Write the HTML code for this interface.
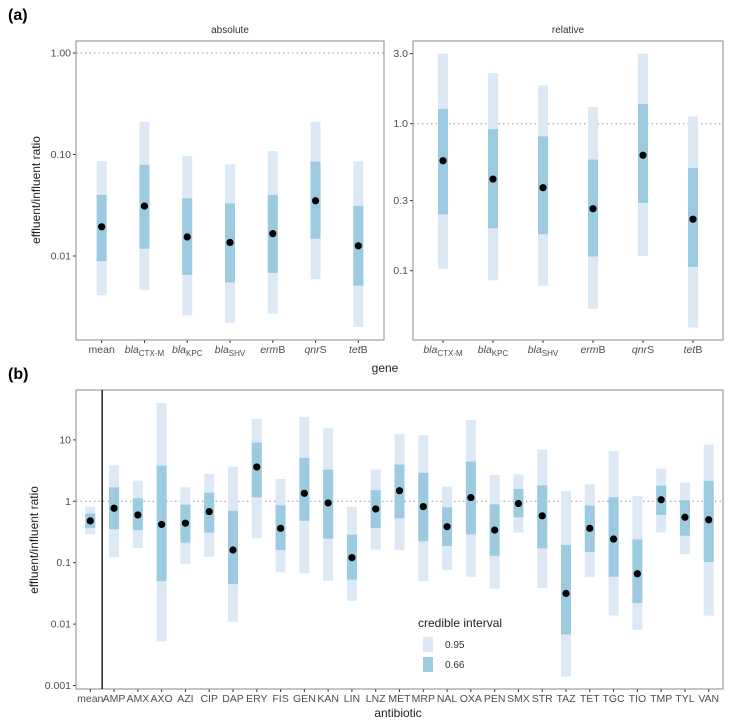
<!DOCTYPE html>
<html><head><meta charset="utf-8"><style>
body{margin:0;background:#fff}
svg{display:block;font-family:"Liberation Sans",sans-serif}
.tick{font-size:10.5px;fill:#4d4d4d}
</style></head><body>
<svg id="fig" width="732" height="725" viewBox="0 0 732 725">
<text x="8" y="20" font-size="16" font-weight="bold">(a)</text>
<text x="8" y="379" font-size="16" font-weight="bold">(b)</text>
<text x="230" y="33" font-size="10" fill="#333" text-anchor="middle">absolute</text>
<text x="568" y="33" font-size="10" fill="#333" text-anchor="middle">relative</text>
<text transform="translate(40,190) rotate(-90)" font-size="12" fill="#222" text-anchor="middle">effluent/influent ratio</text>
<text transform="translate(38,540) rotate(-90)" font-size="12" fill="#222" text-anchor="middle">effluent/influent ratio</text>
<text x="385" y="372" font-size="12" fill="#222" text-anchor="middle">gene</text>
<text x="398" y="717" font-size="12" fill="#222" text-anchor="middle">antibiotic</text>
<g>
<text x="418" y="627" font-size="12" fill="#222">credible interval</text>
<rect x="423" y="637" width="10" height="15" fill="#dce9f5"/>
<rect x="423" y="657" width="10" height="15" fill="#9ccae0"/>
<text x="445" y="648" font-size="10" fill="#333">0.95</text>
<text x="445" y="668" font-size="10" fill="#333">0.66</text>
</g>
</svg>
<script>
// Panel a absolute
const absCats = ["mean","blaCTX-M","blaKPC","blaSHV","ermB","qnrS","tetB"];
const absLo95 = [0.0041,0.0046,0.0026,0.0022,0.0027,0.0059,0.0020];
const absHi95 = [0.086,0.21,0.097,0.080,0.108,0.21,0.086];
const absLo66 = [0.0089,0.0118,0.0065,0.0055,0.0068,0.0148,0.0051];
const absHi66 = [0.040,0.079,0.037,0.033,0.040,0.085,0.031];
const absMid = [0.0194,0.031,0.0154,0.0136,0.0166,0.035,0.0126];
const absTicks = [1,0.1,0.01];
const absTickLabels = ["1.00","0.10","0.01"];
// Panel a relative
const relCats = ["blaCTX-M","blaKPC","blaSHV","ermB","qnrS","tetB"];
const relLo95 = [0.103,0.086,0.079,0.055,0.126,0.041];
const relHi95 = [3.0,2.21,1.82,1.30,3.0,1.12];
const relLo66 = [0.242,0.194,0.177,0.125,0.289,0.106];
const relHi66 = [1.26,0.92,0.82,0.57,1.36,0.50];
const relMid = [0.56,0.42,0.367,0.264,0.61,0.224];
const relTicks = [3,1,0.3,0.1];
const relTickLabels = ["3.0","1.0","0.3","0.1"];
// Panel b
const abCats = ["mean","AMP","AMX","AXO","AZI","CIP","DAP","ERY","FIS","GEN","KAN","LIN","LNZ","MET","MRP","NAL","OXA","PEN","SMX","STR","TAZ","TET","TGC","TIO","TMP","TYL","VAN"];
const abLo95 = [0.29,0.122,0.174,0.0052,0.096,0.125,0.0109,0.249,0.0696,0.067,0.051,0.024,0.163,0.161,0.050,0.076,0.059,0.0377,0.31,0.039,0.0014,0.058,0.0138,0.0081,0.31,0.138,0.0137];
const abHi95 = [0.82,3.86,2.17,40,1.69,2.79,3.67,22,2.31,23.7,15.5,0.81,3.3,12.4,11.9,1.73,21.2,2.69,2.75,6.96,1.46,1.89,6.6,1.22,3.41,2.02,8.4];
const abLo66 = [0.37,0.35,0.34,0.050,0.212,0.31,0.045,1.16,0.161,0.48,0.246,0.053,0.367,0.53,0.223,0.187,0.29,0.13,0.55,0.171,0.0068,0.149,0.059,0.022,0.60,0.275,0.1025];
const abHi66 = [0.63,1.69,1.12,3.8,0.88,1.38,0.70,9.05,0.86,5.09,3.28,0.286,1.51,3.96,2.9,0.80,4.43,0.89,1.59,1.82,0.194,0.85,1.16,0.24,1.8,1.04,2.15];
const abMid = [0.48,0.77,0.60,0.42,0.44,0.68,0.161,3.63,0.363,1.35,0.94,0.121,0.75,1.49,0.82,0.386,1.15,0.34,0.92,0.58,0.0316,0.363,0.243,0.066,1.06,0.55,0.50];
const abTicks = [10,1,0.1,0.01,0.001];
const abTickLabels = ["10","1","0.1","0.01","0.001"];

const NS="http://www.w3.org/2000/svg";
const svg=document.getElementById('fig');
function mk(tag,attrs,parent){const e=document.createElementNS(NS,tag);for(const k in attrs)e.setAttribute(k,attrs[k]);(parent||svg).appendChild(e);return e;}

function catLabel(t,name,x,y){
  const txt=mk('text',{x:x,y:y,'text-anchor':'middle',class:'tick'});
  
  
  const m=t.match(/^bla(.*)$/);
  if(m){const a=mk('tspan',{'font-style':'italic'},txt);a.textContent='bla';const b=mk('tspan',{dy:3,'font-size':8},txt);b.textContent=m[1];}
  else if(/^(erm|qnr|tet)(.*)$/.test(t)&&t.length<=4){const mm=t.match(/^(erm|qnr|tet)(.*)$/);const a=mk('tspan',{'font-style':'italic'},txt);a.textContent=mm[1];const b=mk('tspan',{},txt);b.textContent=mm[2];}
  else txt.textContent=t;
}

function panel(o){
  const g=mk('g',{});
  
  
  const L=o.x0,R=o.x1,T=o.y0,B=o.y1;
  const n=o.cats.length, step=(R-L)/(n-1+1.2);
  const xs=i=>L+step*(0.6+i);
  const ys=v=>o.yRef-(Math.log10(v)-Math.log10(o.vRef))*o.dec;
  const rl=mk('line',{x1:L,x2:R,y1:ys(1),y2:ys(1),stroke:'#999','stroke-dasharray':'1.5,3','stroke-width':1},g);
  
  
  o.ticks.forEach((t,i)=>{
    const y=ys(t);
    const tl=mk('line',{x1:L-3,x2:L,y1:y,y2:y,stroke:'#333'},g);
    
    
    const tx=mk('text',{x:L-5,y:y+3.5,'text-anchor':'end',class:'tick'},g);
    
    
    tx.textContent=o.tickLabels[i];
  });
  const bw=10;
  o.cats.forEach((c,i)=>{
    const x=xs(i);
    const r1=mk('rect',{x:x-bw/2,width:bw,y:ys(o.hi95[i]),height:ys(o.lo95[i])-ys(o.hi95[i]),fill:'#dce9f5'},g);
    
    
    const r2=mk('rect',{x:x-bw/2,width:bw,y:ys(o.hi66[i]),height:ys(o.lo66[i])-ys(o.hi66[i]),fill:'#9ccae0'},g);
    
    
    const p=mk('circle',{cx:x,cy:ys(o.mid[i]),r:3.6,fill:'#000'},g);
    
    
    const xt=mk('line',{x1:x,x2:x,y1:B,y2:B+3,stroke:'#333'},g);
    
    
    catLabel(c,'x-label-'+c,x,B+13);
  });
  const fr=mk('rect',{x:L,y:T,width:R-L,height:B-T,fill:'none',stroke:'#888','stroke-width':1},g);
  
  
  if(o.sep){const s=mk('line',{x1:L+step*1.1,x2:L+step*1.1,y1:T,y2:B,stroke:'#000','stroke-width':1.3},g);
    
    }
}
panel({name:'panel-absolute',x0:76,x1:384,y0:41,y1:340,cats:absCats,lo95:absLo95,hi95:absHi95,lo66:absLo66,hi66:absHi66,mid:absMid,ticks:absTicks,tickLabels:absTickLabels,yRef:53,vRef:1,dec:101.5});
panel({name:'panel-relative',x0:413,x1:723,y0:41,y1:340,cats:relCats,lo95:relLo95,hi95:relHi95,lo66:relLo66,hi66:relHi66,mid:relMid,ticks:relTicks,tickLabels:relTickLabels,yRef:123.7,vRef:1,dec:147});
panel({name:'panel-antibiotic',x0:76,x1:723,y0:390,y1:689,cats:abCats,lo95:abLo95,hi95:abHi95,lo66:abLo66,hi66:abHi66,mid:abMid,ticks:abTicks,tickLabels:abTickLabels,yRef:501.3,vRef:1,dec:61.4,sep:true});
</script>
</body></html>
